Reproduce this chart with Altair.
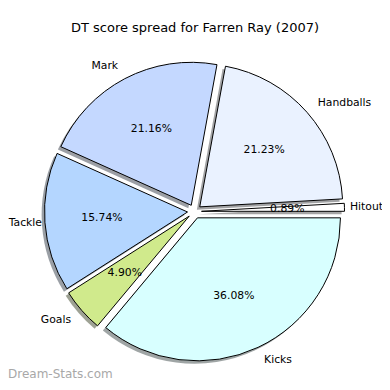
import math
import altair as alt
import pandas as pd

TITLE = "DT score spread for Farren Ray (2007)"
WATERMARK = "Dream-Stats.com"

# slices in matplotlib order (counter-clockwise from 3 o'clock)
labels = ["Hitout", "Handballs", "Mark", "Tackle", "Goals", "Kicks"]
values = [0.89, 21.23, 21.16, 15.74, 4.90, 36.08]
colors = ["#ffffff", "#eaf2ff", "#c4d8ff", "#b4d6ff", "#d0ea8c", "#d8ffff"]


def darken(hx, f=0.3):
    h = hx.lstrip("#")
    r, g, b = (int(h[i:i + 2], 16) for i in (0, 2, 4))
    return "#%02x%02x%02x" % (int(r * f), int(g * f), int(b * f))


shadow_colors = [darken(c) for c in colors]

df = pd.DataFrame({"label": labels, "value": values})

# layout constants (pixels in chart coordinates)
W, H, TOP = 374, 344, 30
CX, CY = 186.5, 173.5
R = 143.0
EXPL = 7.0
FONT = "DejaVu Sans"
MIN_RIGHT_EDGE = 34   # keep right-aligned labels inside the page
MAX_LEFT_START = 342  # keep left-aligned labels inside the page

base = (
    alt.Chart(df)
    .transform_joinaggregate(total="sum(value)")
    .transform_window(cum="sum(value)", frame=[None, 0])
    .transform_calculate(
        a1="2*PI*(datum.cum - datum.value)/datum.total",
        a2="2*PI*datum.cum/datum.total",
    )
    .transform_calculate(mid="(datum.a1 + datum.a2)/2")
    .transform_calculate(
        th1="PI/2 - datum.a2",
        th2="PI/2 - datum.a1",
        ex=f"{CX} + {EXPL}*cos(datum.mid)",
        ey=f"{CY} - {EXPL}*sin(datum.mid)",
    )
    .transform_calculate(
        lx=f"datum.ex + {1.1 * R}*cos(datum.mid)",
        ly=f"datum.ey - {1.1 * R}*sin(datum.mid)",
        px=f"datum.ex + {0.6 * R}*cos(datum.mid)",
        py=f"datum.ey - {0.6 * R}*sin(datum.mid)",
        pct="format(datum.value, '.2f') + '%'",
        side="cos(datum.mid) >= 0 ? 'L' : 'R'",
    )
    .transform_calculate(
        lxr=f"max(datum.lx, {MIN_RIGHT_EDGE})",
        lxl=f"min(datum.lx, {MAX_LEFT_START})",
    )
)

arc_enc = dict(
    theta=alt.Theta("th1:Q", scale=None, stack=None),
    theta2="th2:Q",
    x=alt.X("ex:Q", scale=None),
    y=alt.Y("ey:Q", scale=None),
)

shadow = base.mark_arc(radius=R, xOffset=-2.9, yOffset=2.9, opacity=0.5).encode(
    color=alt.Color("label:N", scale=alt.Scale(domain=labels, range=shadow_colors), legend=None),
    **arc_enc,
)

arcs = base.mark_arc(radius=R, stroke="#000000", strokeWidth=1).encode(
    color=alt.Color("label:N", scale=alt.Scale(domain=labels, range=colors), legend=None),
    **arc_enc,
)

txt_kw = dict(font=FONT, fontSize=10.8, color="#000000", baseline="middle")

labels_left = base.transform_filter("datum.side == 'L'").mark_text(align="left", **txt_kw).encode(
    x=alt.X("lxl:Q", scale=None), y=alt.Y("ly:Q", scale=None), text="label:N"
)
labels_right = base.transform_filter("datum.side == 'R'").mark_text(align="right", **txt_kw).encode(
    x=alt.X("lxr:Q", scale=None), y=alt.Y("ly:Q", scale=None), text="label:N"
)
pcts = base.mark_text(align="center", **txt_kw).encode(
    x=alt.X("px:Q", scale=None), y=alt.Y("py:Q", scale=None), text="pct:N"
)

wm = alt.Chart(pd.DataFrame({"t": [WATERMARK]})).mark_text(
    align="left", baseline="alphabetic", font=FONT, fontSize=12, color="#a8a8a8"
).encode(x=alt.value(0), y=alt.value(H - 4), text="t:N")

chart = (
    alt.layer(shadow, arcs, labels_left, labels_right, pcts, wm)
    .resolve_scale(color="independent")
    .properties(
        width=W,
        height=H,
        padding={"left": 0, "right": 0, "top": TOP, "bottom": 0},
        autosize="none",
        title=alt.TitleParams(
            text=TITLE, font=FONT, fontSize=13, fontWeight="normal", color="#000000",
            anchor="middle", baseline="alphabetic", offset=1, dy=8,
        ),
    )
    .configure_view(stroke=None)
)

chart.save("out.html", embed_options={"renderer": "svg", "actions": False})
